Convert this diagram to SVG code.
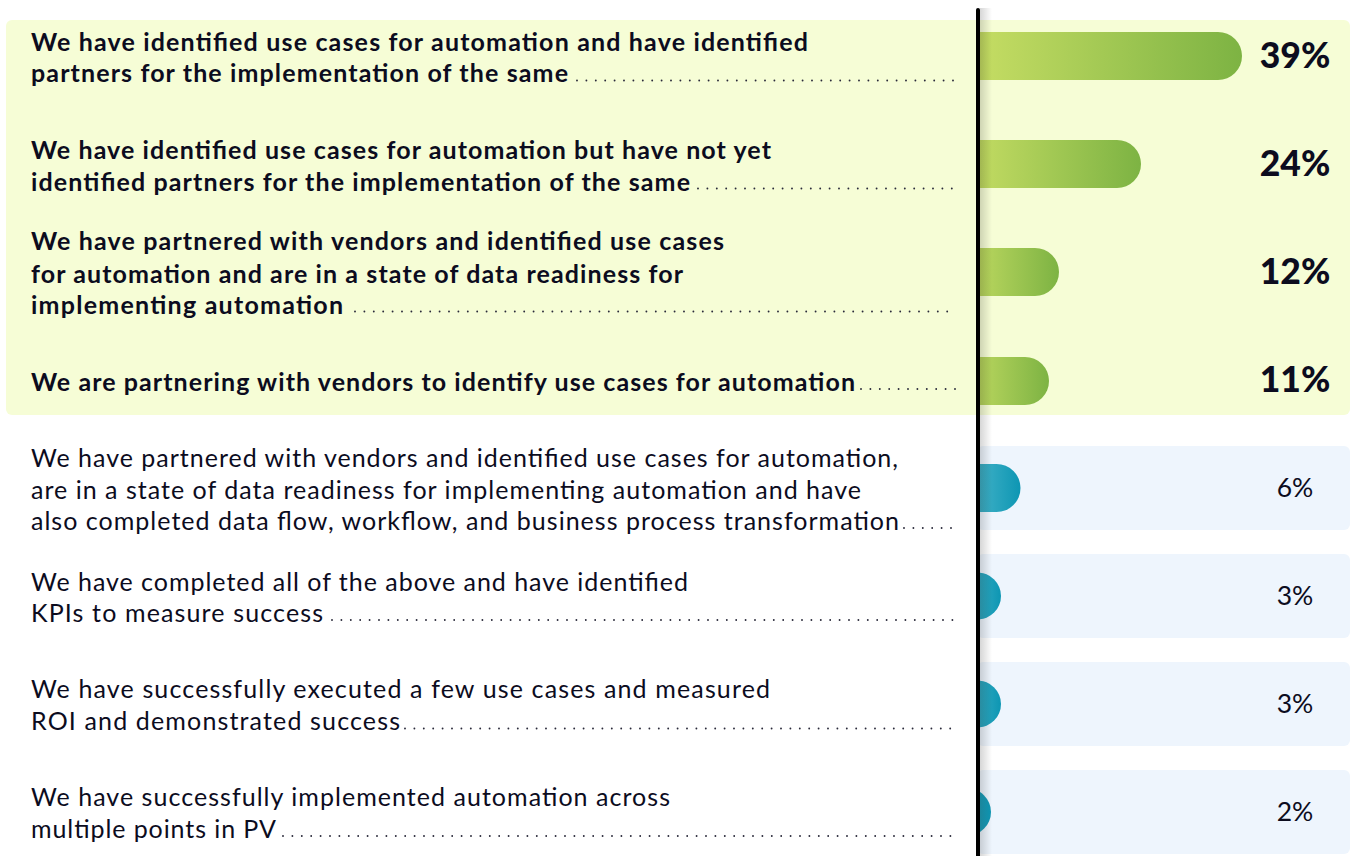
<svg xmlns="http://www.w3.org/2000/svg" width="1351" height="856" viewBox="0 0 1351 856">
<defs>
<style>
.b{font-family:Lato,"Liberation Sans",sans-serif;font-weight:700;font-size:25px;fill:#0c0c1e}
.r{font-family:Lato,"Liberation Sans",sans-serif;font-weight:400;font-size:25px;fill:#0c0c1e}
.pb{font-family:Lato,"Liberation Sans",sans-serif;font-weight:900;font-size:35.5px;fill:#0c0c1e;text-anchor:middle}
.pr{font-family:Lato,"Liberation Sans",sans-serif;font-weight:400;font-size:26.5px;fill:#0c0c1e;text-anchor:middle}
.dots{stroke:#2a2a3a;stroke-width:1.9;stroke-linecap:round;stroke-dasharray:0 9.4;fill:none}
.gbar{fill:url(#gg)}
.bbar{fill:url(#bg)}
.bluebg{fill:#eef5fd}
</style>
<linearGradient id="gg" x1="0" y1="0" x2="1" y2="0">
<stop offset="0" stop-color="#cbe066"/>
<stop offset="1" stop-color="#7db343"/>
</linearGradient>
<linearGradient id="bg" x1="0" y1="0" x2="1" y2="0">
<stop offset="0" stop-color="#5dbfd1"/>
<stop offset="1" stop-color="#0d96b3"/>
</linearGradient>
<linearGradient id="sh" x1="0" y1="0" x2="1" y2="0">
<stop offset="0" stop-color="#000" stop-opacity="0.16"/>
<stop offset="1" stop-color="#000" stop-opacity="0"/>
</linearGradient>
<clipPath id="barclip"><rect x="980" y="0" width="371" height="856"/></clipPath>
</defs>
<rect width="1351" height="856" fill="#ffffff"/>
<g id="backgrounds">
<rect x="6" y="20" width="1344" height="395" rx="6" fill="#f6fdd6"/>
<rect class="bluebg" x="977" y="446" width="373" height="84" rx="6"/>
<rect class="bluebg" x="977" y="554" width="373" height="84" rx="6"/>
<rect class="bluebg" x="977" y="662" width="373" height="84" rx="6"/>
<rect class="bluebg" x="977" y="770" width="373" height="84" rx="6"/>
</g>
<g id="bars" clip-path="url(#barclip)">
<rect class="gbar" x="956" y="32" width="286" height="48" rx="24"/>
<rect class="gbar" x="956" y="140" width="185" height="48" rx="24"/>
<rect class="gbar" x="956" y="248" width="103" height="48" rx="24"/>
<rect class="gbar" x="956" y="357" width="93" height="48" rx="24"/>
<rect class="bbar" x="956" y="464" width="64.5" height="48" rx="24"/>
<rect class="bbar" x="954" y="572.5" width="47" height="47" rx="23.5"/>
<rect class="bbar" x="954" y="680.5" width="47" height="47" rx="23.5"/>
<rect class="bbar" x="944" y="788.5" width="47" height="47" rx="23.5"/>
</g>
<g id="axis">
<rect x="980" y="8" width="12" height="848" fill="url(#sh)"/>
<line x1="978" y1="10" x2="978" y2="856" stroke="#000" stroke-width="4" stroke-linecap="round"/>
</g>
<g id="connectors">
<line class="dots" x1="577" y1="80.5" x2="955" y2="80.5"/>
<line class="dots" x1="698" y1="188.5" x2="955" y2="188.5"/>
<line class="dots" x1="355" y1="311.5" x2="955" y2="311.5"/>
<line class="dots" x1="861" y1="389" x2="955" y2="389"/>
<line class="dots" x1="904" y1="528" x2="955" y2="528"/>
<line class="dots" x1="332" y1="620" x2="955" y2="620"/>
<line class="dots" x1="405" y1="728.5" x2="955" y2="728.5"/>
<line class="dots" x1="283" y1="836" x2="955" y2="836"/>
</g>
<g id="row1">
<text class="b" x="31" y="51" textLength="777" lengthAdjust="spacing">We have identified use cases for automation and have identified</text>
<text class="b" x="31" y="82" textLength="537" lengthAdjust="spacing">partners for the implementation of the same</text>
<text class="pb" x="1295" y="68">39%</text>
</g>
<g id="row2">
<text class="b" x="31" y="159" textLength="740" lengthAdjust="spacing">We have identified use cases for automation but have not yet</text>
<text class="b" x="31" y="190.5" textLength="659" lengthAdjust="spacing">identified partners for the implementation of the same</text>
<text class="pb" x="1295" y="176">24%</text>
</g>
<g id="row3">
<text class="b" x="31" y="250" textLength="693" lengthAdjust="spacing">We have partnered with vendors and identified use cases</text>
<text class="b" x="31" y="282.5" textLength="652" lengthAdjust="spacing">for automation and are in a state of data readiness for</text>
<text class="b" x="31" y="313.5" textLength="312" lengthAdjust="spacing">implementing automation</text>
<text class="pb" x="1295" y="284">12%</text>
</g>
<g id="row4">
<text class="b" x="31" y="390.5" textLength="824" lengthAdjust="spacing">We are partnering with vendors to identify use cases for automation</text>
<text class="pb" x="1295" y="392">11%</text>
</g>
<g id="row5">
<text class="r" x="31" y="467" textLength="867" lengthAdjust="spacing">We have partnered with vendors and identified use cases for automation,</text>
<text class="r" x="31" y="498.5" textLength="830" lengthAdjust="spacing">are in a state of data readiness for implementing automation and have</text>
<text class="r" x="31" y="529.5" textLength="868" lengthAdjust="spacing">also completed data flow, workflow, and business process transformation</text>
<text class="pr" x="1295" y="497">6%</text>
</g>
<g id="row6">
<text class="r" x="31" y="590.5" textLength="657" lengthAdjust="spacing">We have completed all of the above and have identified</text>
<text class="r" x="31" y="621.5" textLength="292" lengthAdjust="spacing">KPIs to measure success</text>
<text class="pr" x="1295" y="605">3%</text>
</g>
<g id="row7">
<text class="r" x="31" y="698" textLength="739" lengthAdjust="spacing">We have successfully executed a few use cases and measured</text>
<text class="r" x="31" y="730" textLength="369" lengthAdjust="spacing">ROI and demonstrated success</text>
<text class="pr" x="1295" y="713">3%</text>
</g>
<g id="row8">
<text class="r" x="31" y="806" textLength="639" lengthAdjust="spacing">We have successfully implemented automation across</text>
<text class="r" x="31" y="837.5" textLength="245" lengthAdjust="spacing">multiple points in PV</text>
<text class="pr" x="1295" y="821">2%</text>
</g>
</svg>
